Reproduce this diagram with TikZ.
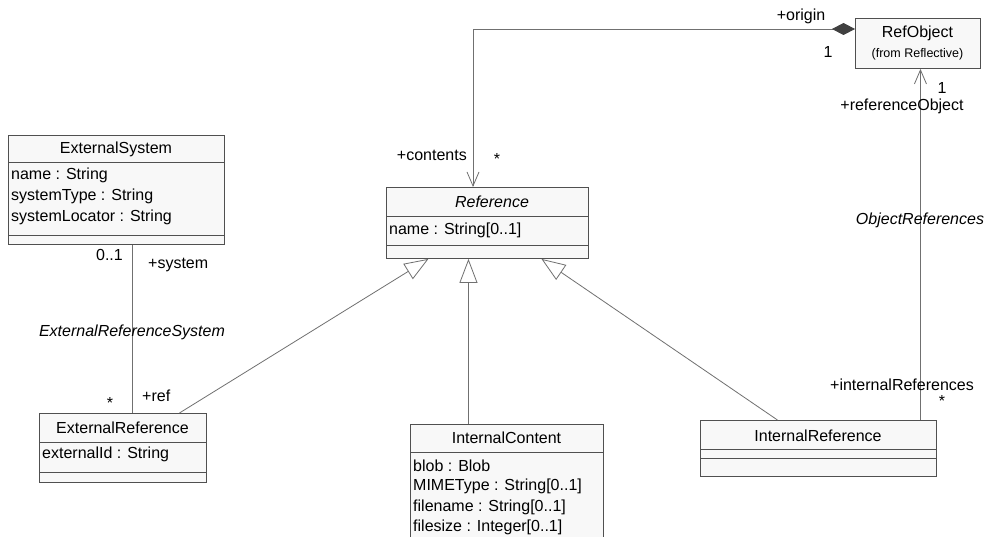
\documentclass[tikz,border=0pt]{standalone}
\usepackage{fontspec}
\setmainfont{Liberation Sans}
\usetikzlibrary{arrows.meta}
\definecolor{boxfill}{HTML}{F8F8F8}
\definecolor{boxline}{HTML}{505050}
\definecolor{conn}{HTML}{707070}
\definecolor{diam}{HTML}{404040}
\begin{document}
\begin{tikzpicture}[x=1pt,y=-1pt,
  cls/.style={draw=boxline,fill=boxfill,line width=0.9pt,rectangle,inner sep=0pt,anchor=north west},
  sepline/.style={draw=boxline,line width=0.9pt},
  txt/.style={font=\fontsize{16}{18}\selectfont,inner sep=0pt},
  itxt/.style={font=\fontsize{16}{18}\selectfont\itshape,inner sep=0pt},
  attr/.style={txt,anchor=west},
  small/.style={font=\fontsize{12.5}{14}\selectfont,inner sep=0pt},
  conn/.style={draw=conn,line width=0.8pt},
  gen/.style={conn,-{Triangle[open,length=24pt,width=18pt,fill=white]}},
  nav/.style={conn,-{Straight Barb[length=14pt,width=12pt,line width=0.8pt]}},
  comp/.style={conn,{Diamond[length=23pt,width=12pt,fill=diam,color=diam]}-{Straight Barb[length=14pt,width=12pt,line width=0.8pt]}}]
\useasboundingbox (0,0) rectangle (992,537);
\fill[white] (0,0) rectangle (992,537);
\clip (0,0) rectangle (992,537);

% ---------- classes ----------
\node[cls,minimum width=216pt,minimum height=109pt] (es) at (8,135) {};
\draw[sepline] (8,162) -- (224,162);
\draw[sepline] (8,235) -- (224,235);
\node[txt] (esT) at (116,149) {ExternalSystem};
\node[attr] (esA1) at (11,175) {name : String};
\node[attr] (esA2) at (11,196) {systemType : String};
\node[attr] (esA3) at (11,217) {systemLocator : String};

\node[cls,minimum width=202pt,minimum height=71pt] (ref) at (386,187) {};
\draw[sepline] (386,216) -- (588,216);
\draw[sepline] (386,245) -- (588,245);
\node[itxt] (refT) at (492,202) {Reference};
\node[attr] (refA1) at (389,230) {name : String[0..1]};

\node[cls,minimum width=167pt,minimum height=69pt] (er) at (39,413) {};
\draw[sepline] (39,442) -- (206,442);
\draw[sepline] (39,472) -- (206,472);
\node[txt] (erT) at (122.5,428) {ExternalReference};
\node[attr] (erA1) at (42,454) {externalId : String};

\node[cls,minimum width=193pt,minimum height=130pt] (ic) at (410,424) {};
\draw[sepline] (410,452) -- (603,452);
\node[txt] (icT) at (506.5,438) {InternalContent};
\node[attr] (icA1) at (413,466) {blob : Blob};
\node[attr] (icA2) at (413,486) {MIMEType : String[0..1]};
\node[attr] (icA3) at (413,507) {filename : String[0..1]};
\node[attr] (icA4) at (413,527) {filesize : Integer[0..1]};

\node[cls,minimum width=236pt,minimum height=56pt] (ir) at (700,420) {};
\draw[sepline] (700,449) -- (936,449);
\draw[sepline] (700,458) -- (936,458);
\node[txt] (irT) at (818,436) {InternalReference};

\node[cls,minimum width=125pt,minimum height=50pt] (ro) at (855,18) {};
\node[txt] (roT) at (917.5,33) {RefObject};
\node[small] (roS) at (917.5,54) {(from Reflective)};

% ---------- connectors ----------
\coordinate (bend) at (473,29);
\draw[comp] (ro.west |- bend) -- (bend) -- (ref.north -| bend);

\draw[conn] ([xshift=16pt]es.south) -- ([xshift=9.5pt]er.north);

\draw[gen] ([xshift=56.5pt]er.north) -- ([xshift=-59pt]ref.south);
\draw[gen] ([xshift=-38.5pt]ic.north) -- ([xshift=-19pt]ref.south);
\draw[gen] ([xshift=-41pt]ir.north) -- ([xshift=54pt]ref.south);

\draw[nav] ([xshift=102pt]ir.north) -- ([xshift=2.5pt]ro.south);

% ---------- labels ----------
\node[txt] (lOrigin) at (801,16) {+origin};
\node[txt] (lOne1) at (828,52) {1};
\node[txt,anchor=east] (lContents) at (467,155) {+contents};
\node[txt] (lStar1) at (497,159) {*};

\node[txt,anchor=east] (lZeroOne) at (123,255) {0..1};
\node[txt,anchor=west] (lSystem) at (148,265) {+system};
\node[itxt] (lERS) at (132,332) {ExternalReferenceSystem};
\node[txt] (lStar2) at (110,403) {*};
\node[txt,anchor=west] (lRef) at (142,396) {+ref};

\node[txt] (lOne2) at (942,88) {1};
\node[txt] (lRefObj) at (902,106) {+referenceObject};
\node[itxt] (lObjRefs) at (920,220) {ObjectReferences};
\node[txt] (lIntRefs) at (902,385) {+internalReferences};
\node[txt] (lStar3) at (942,401) {*};
\end{tikzpicture}
\end{document}
